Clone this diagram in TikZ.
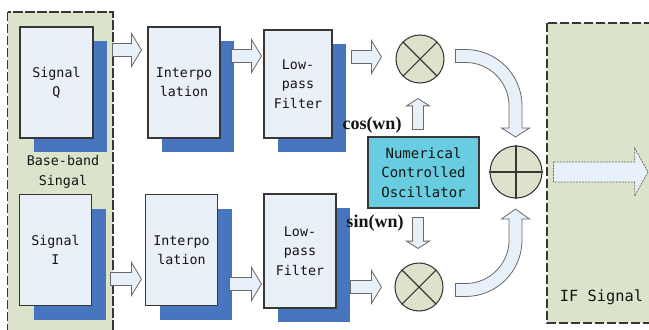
\documentclass[tikz,border=0pt]{standalone}
\usepackage{fontspec}
\setmainfont{Liberation Serif}
\setmonofont{DejaVu Sans Mono}
\usetikzlibrary{calc,shadows}

\definecolor{panelgreen}{RGB}{220,227,203}
\definecolor{boxfill}{RGB}{233,240,248}
\definecolor{boxshadow}{RGB}{72,118,190}
\definecolor{ncofill}{RGB}{104,205,224}
\definecolor{mixfill}{RGB}{221,227,203}
\definecolor{arrowfill}{RGB}{232,240,249}
\definecolor{arrowline}{RGB}{105,105,105}
\definecolor{edge}{RGB}{55,55,55}
\definecolor{ink}{RGB}{20,20,20}

\tikzset{
  fat shaft/.store in=\fatshaft, fat head/.store in=\fathead, fat len/.store in=\fatlen,
  fat shaft=4.9pt, fat head=12.4pt, fat len=7.5pt,
  hollow/.style={draw=arrowline, fill=arrowfill, line width=0.6pt},
  fat/.style={hollow, to path={let \p1=(\tikztostart), \p2=(\tikztotarget),
      \n1={atan2(\y2-\y1,\x2-\x1)} in
      ($(\p1)+(\n1+90:\fatshaft)$)
      -- ($(\p2)+(\n1+180:\fatlen)+(\n1+90:\fatshaft)$)
      -- ($(\p2)+(\n1+180:\fatlen)+(\n1+90:\fathead)$)
      -- (\p2)
      -- ($(\p2)+(\n1+180:\fatlen)+(\n1-90:\fathead)$)
      -- ($(\p2)+(\n1+180:\fatlen)+(\n1-90:\fatshaft)$)
      -- ($(\p1)+(\n1-90:\fatshaft)$) -- cycle}},
  mono/.style={font=\ttfamily\fontsize{10}{14.5}\selectfont, text=ink, align=center, inner sep=0pt},
  block/.style={mono, draw=edge, fill=boxfill, line width=0.8pt,
    minimum width=54pt, minimum height=83.25pt,
    general shadow={fill=boxshadow, shadow xshift=10.5pt, shadow yshift=-10.5pt}},
  panel/.style={draw=edge, fill=panelgreen, line width=1.1pt, dash pattern=on 7pt off 2pt},
  mixer/.style={circle, draw=edge, fill=mixfill, line width=0.8pt, minimum size=36pt, inner sep=0pt},
  cross/.style={draw=edge, line width=0.8pt},
  trig/.style={text=ink, font=\bfseries\fontsize{13.5}{16}\selectfont, inner sep=0pt},
}

\begin{document}
\begin{tikzpicture}[x=0.75pt, y=-0.75pt]
  \useasboundingbox (0,0) rectangle (649,329);
  \clip (0,0) rectangle (649,329);

  % input and output panels
  \draw[panel] (7.5,12) rectangle (113,340);
  \draw[panel] (547,23) rectangle (660,323);

  % I/Q branches
  \node[block, minimum width=54.75pt] (sigQ) at (56.5,82.5) {Signal\\Q};
  \node[block] (sigI) at (55.5,250) {Signal\\I};
  \node[block] (intQ) at (184,82.5) {Interpo\\lation};
  \node[block] (intI) at (181.5,250) {Interpo\\lation};
  \node[block, minimum width=51pt, minimum height=81pt] (lpfQ) at (298,84) {Low-\\pass\\Filter};
  \node[block, minimum height=85.5pt] (lpfI) at (300,251) {Low-\\pass\\Filter};
  \node[mono] (bb) at (63,172) {Base-band\\Singal};

  % mixers, adder and oscillator
  \node[mixer] (mixQ) at (420,59) {};
  \node[mixer] (mixI) at (419,287) {};
  \node[mixer, minimum size=39pt] (sum) at (516,172) {};
  \draw[cross] (mixQ.north west) -- (mixQ.south east) (mixQ.north east) -- (mixQ.south west);
  \draw[cross] (mixI.north west) -- (mixI.south east) (mixI.north east) -- (mixI.south west);
  \draw[cross] (sum.north) -- (sum.south) (sum.west) -- (sum.east);
  \node[mono, draw=edge, fill=ncofill, line width=0.8pt, font=\ttfamily\fontsize{10.5}{14.5}\selectfont,
    minimum width=83.25pt, minimum height=53.25pt] (nco) at (423.5,172.5) {Numerical\\Controlled\\Oscillator};
  \node[trig] (cosl) at (372,125) {cos(wn)};
  \node[trig] (sinl) at (375,223) {sin(wn)};
  \node[mono, font=\ttfamily\fontsize{11.5}{14}\selectfont] (ifl) at (601.5,297) {IF Signal};
  \coordinate (ifout) at (648,172);

  % block arrows
  \draw[fat] ($(sigQ.east)+(19,-32.5)$) to ($(intQ.west)+(-6,-32.5)$);
  \draw[fat] ($(intQ.east)+(11,-26.5)$) to ($(lpfQ.west)+(-2,-28)$);
  \draw[fat] ($(lpfQ.east)+(19,-27)$) to ($(mixQ.west)+(-14,-2)$);
  \draw[fat] ($(sigI.east)+(18.5,29)$) to ($(intI.west)+(-3.5,29)$);
  \draw[fat] ($(intI.east)+(11.5,34)$) to ($(lpfI.west)+(-2,33)$);
  \draw[fat] ($(lpfI.east)+(14,36)$) to ($(mixI.west)+(-13,0)$);
  \draw[fat, fat shaft=4.1pt, fat head=8.6pt, fat len=5.5pt] ($(nco.north)+(-5.5,-7)$) to ($(mixQ.south)+(-2,15)$);
  \draw[fat, fat shaft=4.1pt, fat head=8.6pt, fat len=5.5pt] ($(nco.south)+(-5.5,9)$) to ($(mixI.north)+(-1,-14)$);
  \draw[fat, fat shaft=7.5pt, fat head=18pt, fat len=10pt, dash pattern=on 1.5pt off 0.8pt] ($(sum.east)+(11,0)$) to (ifout);

  % bent arrows into the adder
  \draw[hollow] ($(mixQ.east)+(11,-9.5)$) -- ++(10,0) arc[start angle=-90, end angle=0, radius=56.5]
    -- ++(0,22) -- ++(7.5,0) -- ++(-14,9) -- ++(-14,-9) -- ++(7.5,0) -- ++(0,-22)
    arc[start angle=0, end angle=-90, radius=43.5] -- ++(-10,0) -- cycle;
  \draw[hollow] ($(mixI.east)+(12,9.5)$) -- ++(10,0) arc[start angle=90, end angle=0, radius=56.5]
    -- ++(0,-21) -- ++(7.5,0) -- ++(-14,-10) -- ++(-14,10) -- ++(7.5,0) -- ++(0,21)
    arc[start angle=0, end angle=90, radius=43.5] -- ++(-10,0) -- cycle;
\end{tikzpicture}
\end{document}
